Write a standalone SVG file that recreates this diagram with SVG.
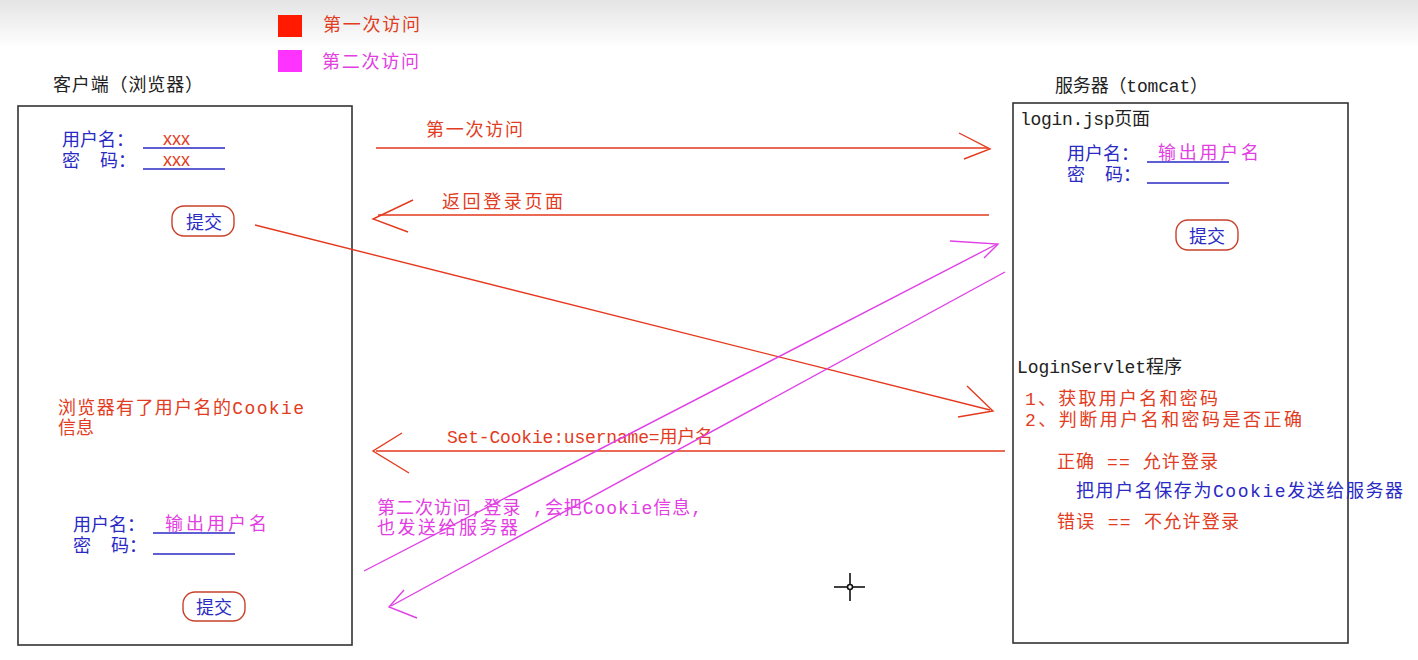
<svg xmlns="http://www.w3.org/2000/svg" width="1418" height="660" viewBox="0 0 1418 660">
<defs>
<linearGradient id="bg" x1="0" y1="0" x2="0" y2="1">
<stop offset="0" stop-color="#e4e4e4"/>
<stop offset="1" stop-color="#ffffff"/>
</linearGradient>
<style>
text{font-family:"Liberation Mono","Noto Sans CJK SC",monospace;font-size:18px}
.red{fill:#e23c22}
.blue{fill:#2a2ac4}
.pink{fill:#e23ee2}
.blk{fill:#222}
.box{fill:none;stroke:#333;stroke-width:1.6}
.btn{fill:none;stroke:#c8402a;stroke-width:1.4}
.ul{stroke:#2a2ac4;stroke-width:1.5}
.rl{fill:none;stroke:#e5391e;stroke-width:1.4}
.pl{fill:none;stroke:#e040e6;stroke-width:1.4}
.xx{font-family:"Liberation Sans",sans-serif;font-size:18px}
</style>
</defs>
<rect width="1418" height="660" fill="#fff"/>
<rect width="1418" height="48" fill="url(#bg)"/>

<g id="legend">
<rect x="278" y="15" width="24" height="22" fill="#ff1a00"/>
<text x="323" y="31" class="red" textLength="97">第一次访问</text>
<rect x="278" y="50" width="24" height="22" fill="#ff33ff"/>
<text x="322" y="68" class="pink" textLength="97">第二次访问</text>
</g>

<g id="client">
<text x="53" y="91" class="blk" textLength="150">客户端（浏览器）</text>
<rect x="18" y="106" width="334" height="539" class="box"/>
</g>

<g id="client-form-first">
<text x="62" y="146" class="blue" textLength="72">用户名：</text>
<text x="163" y="145" class="red xx">xxx</text>
<line x1="143" y1="148" x2="225" y2="148" class="ul"/>
<text x="62" y="167" class="blue">密<tspan x="100">码：</tspan></text>
<text x="163" y="166" class="red xx">xxx</text>
<line x1="143" y1="169" x2="225" y2="169" class="ul"/>
<rect x="172" y="206" width="62" height="30" rx="12" class="btn"/>
<text x="204" y="229" class="blue" text-anchor="middle" font-size="19">提交</text>
</g>

<g id="client-cookie-note">
<text x="58" y="414" class="red" textLength="246">浏览器有了用户名的Cookie</text>
<text x="58" y="434" class="red">信息</text>
</g>

<g id="client-form-second">
<text x="73" y="531" class="blue" textLength="72">用户名：</text>
<text x="165" y="530" class="pink" textLength="102">输出用户名</text>
<line x1="153" y1="533" x2="235" y2="533" class="ul"/>
<text x="73" y="552" class="blue">密<tspan x="111">码：</tspan></text>
<line x1="153" y1="554" x2="235" y2="554" class="ul"/>
<rect x="183" y="592" width="62" height="29" rx="12" class="btn"/>
<text x="214" y="614" class="blue" text-anchor="middle" font-size="19">提交</text>
</g>

<g id="server">
<text x="1055" y="92" class="blk" textLength="153">服务器（tomcat）</text>
<rect x="1013" y="103" width="335" height="540" class="box"/>
</g>

<g id="login-jsp">
<text x="1020" y="125" class="blk" textLength="130">login.jsp页面</text>
<text x="1067" y="160" class="blue" textLength="72">用户名：</text>
<text x="1158" y="159" class="pink" textLength="101">输出用户名</text>
<line x1="1147" y1="162" x2="1229" y2="162" class="ul"/>
<text x="1067" y="181" class="blue">密<tspan x="1105">码：</tspan></text>
<line x1="1147" y1="183" x2="1229" y2="183" class="ul"/>
<rect x="1176" y="220" width="62" height="30" rx="12" class="btn"/>
<text x="1207" y="243" class="blue" text-anchor="middle" font-size="19">提交</text>
</g>

<g id="login-servlet">
<text x="1017" y="373" class="blk" textLength="165">LoginServlet程序</text>
<text x="1025" y="405" class="red" textLength="193">1、获取用户名和密码</text>
<text x="1025" y="426" class="red" textLength="277">2、判断用户名和密码是否正确</text>
<text x="1057" y="468" class="red" textLength="161">正确 == 允许登录</text>
<text x="1076" y="497" class="blue" textLength="327">把用户名保存为Cookie发送给服务器</text>
<text x="1057" y="528" class="red" textLength="182">错误 == 不允许登录</text>
</g>

<g id="connectors">
<g id="first-visit">
<line x1="376" y1="148" x2="988" y2="148" class="rl"/>
<polyline points="959,133 990,149 964,159" class="rl"/>
<text x="426" y="136" class="red" textLength="97">第一次访问</text>
</g>
<g id="return-login-page">
<line x1="989" y1="215" x2="378" y2="215" class="rl"/>
<polyline points="413,200 373,219 408,232" class="rl"/>
<text x="442" y="208" class="red" textLength="121">返回登录页面</text>
</g>
<g id="submit-to-servlet">
<line x1="255" y1="225" x2="990" y2="410" class="rl"/>
<polyline points="967,386 993,411 958,417" class="rl"/>
</g>
<g id="set-cookie">
<line x1="1005" y1="451" x2="376" y2="451" class="rl"/>
<polyline points="402,433 373,451 409,473" class="rl"/>
<text x="447" y="443" class="red" textLength="266">Set-Cookie:username=用户名</text>
</g>
<g id="second-visit">
<line x1="364" y1="571" x2="997" y2="244" class="pl"/>
<polyline points="950,241 998,244 984,258" class="pl"/>
<text x="377" y="514" class="pink" textLength="325">第二次访问,登录 ,会把Cookie信息,</text>
<text x="377" y="534" class="pink" textLength="141">也发送给服务器</text>
</g>
<g id="second-response">
<line x1="1005" y1="272" x2="391" y2="606" class="pl"/>
<polyline points="404,590 389,607 417,618" class="pl"/>
</g>
</g>

<g id="cursor" stroke="#111" stroke-width="1.6" fill="none">
<line x1="850" y1="573" x2="850" y2="601"/>
<line x1="834" y1="587" x2="865" y2="587"/>
<circle cx="850" cy="587" r="2.5" fill="#fff"/>
</g>
</svg>
